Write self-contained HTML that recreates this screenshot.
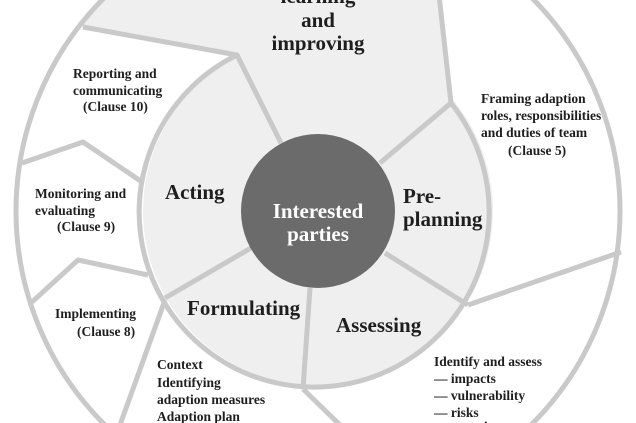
<!DOCTYPE html>
<html><head><meta charset="utf-8"><style>
html,body{margin:0;padding:0;background:#fff;width:636px;height:423px;overflow:hidden;}
svg{display:block;}
text{font-family:"Liberation Serif","DejaVu Serif",serif;font-weight:bold;fill:#1e1e1e;}
.s{font-size:13.5px;}
.b{font-size:21px;}
</style></head><body>
<svg width="636" height="423" viewBox="0 0 636 423" xmlns="http://www.w3.org/2000/svg" style="overflow:hidden">
<defs><clipPath id="oc"><circle cx="318" cy="211" r="302"/></clipPath></defs>
<circle cx="318" cy="211" r="302" fill="#fff"/>
<circle cx="318" cy="211" r="175" fill="#efefef"/>
<polygon clip-path="url(#oc)" points="0,12 237,55 318,211 451,103 437,-30 0,-30" fill="#efefef"/>
<g stroke="#c9c9c9" stroke-width="5" fill="none" stroke-linejoin="round">
<circle cx="318" cy="211" r="302"/>
<path d="M451 103 A175 175 0 1 1 237 55"/>
<polyline points="83,27 237,55 281,143"/>
<polyline points="439,-5 451,103 380,163"/>
<line x1="251" y1="248" x2="165" y2="298"/>
<line x1="310" y1="288" x2="303" y2="389"/>
<line x1="385" y1="253" x2="468" y2="305"/>
<polyline points="22,163 83,142 142,182"/>
<polyline points="32,302 78,260 148,275"/>
<line x1="165" y1="300" x2="120" y2="425"/>
<line x1="303" y1="389" x2="340" y2="425"/>
<line x1="468" y1="305" x2="621" y2="252"/>
</g>
<circle cx="318" cy="211" r="77" fill="#6b6b6b"/>
<text x="318" y="218" text-anchor="middle" class="b" style="fill:#fff">Interested</text>
<text x="318" y="241" text-anchor="middle" class="b" style="fill:#fff">parties</text>
<text x="318" y="3" text-anchor="middle" class="b">learning</text>
<text x="318" y="27" text-anchor="middle" class="b">and</text>
<text x="318" y="50" text-anchor="middle" class="b">improving</text>
<text x="165" y="199" class="b">Acting</text>
<text x="403" y="203" class="b">Pre-</text>
<text x="403" y="226" class="b">planning</text>
<text x="187" y="315" class="b">Formulating</text>
<text x="336" y="332" class="b">Assessing</text>
<text x="73" y="78" class="s">Reporting and</text>
<text x="73" y="95" class="s">communicating</text>
<text x="83" y="111" class="s">(Clause 10)</text>
<text x="481" y="103" class="s">Framing adaption</text>
<text x="481" y="120" class="s">roles, responsibilities</text>
<text x="481" y="137" class="s">and duties of team</text>
<text x="508" y="155" class="s">(Clause 5)</text>
<text x="35" y="198" class="s">Monitoring and</text>
<text x="35" y="215" class="s">evaluating</text>
<text x="57" y="231" class="s">(Clause 9)</text>
<text x="55" y="318" class="s">Implementing</text>
<text x="77" y="336" class="s">(Clause 8)</text>
<text x="157" y="369" class="s">Context</text>
<text x="157" y="387" class="s">Identifying</text>
<text x="157" y="404" class="s">adaption measures</text>
<text x="157" y="421" class="s">Adaption plan</text>
<text x="434" y="366" class="s">Identify and assess</text>
<text x="434" y="383" class="s">— impacts</text>
<text x="434" y="400" class="s">— vulnerability</text>
<text x="434" y="417" class="s">— risks</text>
<text x="434" y="431" class="s">— capacity</text>
</svg>
</body></html>
